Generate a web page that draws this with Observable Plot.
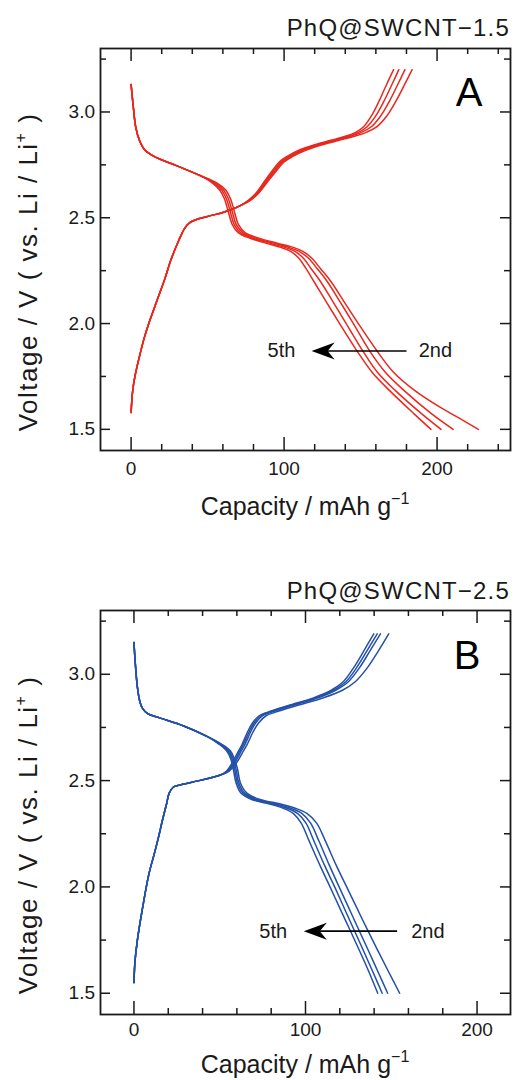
<!DOCTYPE html>
<html>
<head>
<meta charset="utf-8">
<script src="https://cdn.jsdelivr.net/npm/d3@7"></script>
<script src="https://cdn.jsdelivr.net/npm/@observablehq/plot@0.6"></script>
<style>
  body { margin: 0; background: #fff; }
  #chart { width: 514px; height: 1080px; overflow: hidden; }
  #chart svg { display: block; }
</style>
</head>
<body>
<div id="chart"></div>
<script>
// ---- Panel A: PhQ@SWCNT-1.5, cycles 2–5 (capacity mAh/g, voltage V) ----
const dischargeA2 = [[0,3.13],[1.5,3.02],[3,2.93],[5.5,2.865],[9,2.82],[15,2.79],[30,2.745],[45,2.70],[56,2.665],[62,2.63],[65,2.59],[67.5,2.53],[70,2.47],[74.5,2.43],[83,2.405],[95.5,2.38],[106,2.36],[112,2.342],[118,2.31],[124,2.258],[130.5,2.20],[139.5,2.10],[148.5,2.00],[160.8,1.87],[171.5,1.77],[185.5,1.683],[203,1.60],[214,1.555],[227,1.50]];
const dischargeA3 = [[0,3.13],[1.5,3.02],[3,2.93],[5.5,2.865],[9,2.82],[15,2.79],[30,2.745],[45,2.70],[55,2.665],[60.6,2.63],[63.6,2.59],[66.1,2.53],[68.6,2.47],[73,2.43],[81,2.405],[93,2.38],[103,2.36],[109.5,2.342],[115.8,2.31],[121.8,2.258],[128.1,2.20],[136.8,2.10],[145.3,2.00],[156,1.87],[166.2,1.77],[178.5,1.683],[196.5,1.573],[210.5,1.50]];
const dischargeA4 = [[0,3.13],[1.5,3.02],[3,2.93],[5.5,2.865],[9,2.82],[15,2.79],[30,2.745],[45,2.70],[54,2.665],[59.3,2.63],[62.3,2.59],[64.8,2.53],[67.3,2.47],[71.5,2.43],[79,2.405],[90.5,2.38],[100.5,2.36],[106.8,2.342],[112.5,2.31],[117.8,2.258],[123.7,2.20],[132.2,2.10],[140.6,2.00],[151.5,1.87],[161,1.77],[172.8,1.683],[190,1.573],[202.6,1.50]];
const dischargeA5 = [[0,3.13],[1.5,3.02],[3,2.93],[5.5,2.865],[9,2.82],[15,2.79],[30,2.745],[45,2.70],[53,2.665],[58,2.63],[61,2.59],[63.5,2.53],[66,2.47],[70,2.43],[77,2.405],[88,2.38],[98,2.36],[104,2.342],[109.5,2.31],[114.5,2.258],[119.4,2.20],[127.8,2.10],[136.3,2.00],[147.7,1.87],[157.5,1.77],[169,1.683],[185,1.573],[196,1.50]];

const chargeA2 = [[0,1.58],[1,1.68],[2.5,1.75],[4,1.80],[6,1.86],[8.5,1.93],[12,2.01],[15,2.07],[18,2.13],[22,2.21],[26,2.30],[31,2.39],[35,2.45],[38,2.475],[44,2.495],[52,2.51],[60,2.525],[66,2.54],[72,2.56],[78.5,2.585],[83.8,2.62],[89.2,2.67],[94.8,2.72],[100.2,2.765],[105.8,2.79],[114.5,2.82],[125,2.845],[135.5,2.865],[146,2.885],[154,2.905],[160.5,2.93],[167,2.98],[173,3.05],[178.8,3.13],[183.7,3.20]];
const chargeA3 = [[0,1.58],[1,1.68],[2.5,1.75],[4,1.80],[6,1.86],[8.5,1.93],[12,2.01],[15,2.07],[18,2.13],[22,2.21],[26,2.30],[31,2.39],[35,2.45],[38,2.475],[44,2.495],[52,2.51],[60,2.525],[66,2.54],[72,2.56],[78,2.585],[83.2,2.62],[88.4,2.67],[93.8,2.72],[99,2.765],[104.4,2.79],[112.7,2.82],[123,2.845],[133.2,2.865],[143.5,2.885],[151,2.905],[157,2.93],[163,2.98],[168.8,3.05],[174.3,3.13],[179,3.20]];
const chargeA4 = [[0,1.58],[1,1.68],[2.5,1.75],[4,1.80],[6,1.86],[8.5,1.93],[12,2.01],[15,2.07],[18,2.13],[22,2.21],[26,2.30],[31,2.39],[35,2.45],[38,2.475],[44,2.495],[52,2.51],[60,2.525],[66,2.54],[72,2.56],[77.5,2.585],[82.6,2.62],[87.7,2.67],[92.9,2.72],[98,2.765],[103.2,2.79],[111.3,2.82],[121.4,2.845],[131.5,2.865],[141.6,2.885],[148.9,2.905],[154.3,2.93],[159.8,2.98],[165.2,3.05],[170.5,3.13],[175,3.20]];
const chargeA5 = [[0,1.58],[1,1.68],[2.5,1.75],[4,1.80],[6,1.86],[8.5,1.93],[12,2.01],[15,2.07],[18,2.13],[22,2.21],[26,2.30],[31,2.39],[35,2.45],[38,2.475],[44,2.495],[52,2.51],[60,2.525],[66,2.54],[72,2.56],[77,2.585],[82,2.62],[87,2.67],[92,2.72],[97,2.765],[102,2.79],[110,2.82],[120,2.845],[130,2.865],[140,2.885],[147,2.905],[152,2.93],[157,2.98],[162,3.05],[167,3.13],[171.6,3.20]];

// ---- Panel B: PhQ@SWCNT-2.5, cycles 2–5 ----
const dischargeB2 = [[0,3.15],[0.8,3.05],[2,2.94],[3.5,2.87],[5,2.84],[8,2.815],[15,2.795],[29,2.757],[42,2.71],[51,2.672],[56.2,2.64],[58.7,2.60],[60.5,2.55],[62,2.49],[66,2.44],[74,2.41],[85.5,2.39],[94,2.37],[101,2.345],[106.5,2.30],[111.5,2.218],[118,2.10],[124,2.00],[130,1.90],[136,1.80],[142.2,1.70],[148.5,1.60],[154.9,1.50]];
const dischargeB3 = [[0,3.15],[0.8,3.05],[2,2.94],[3.5,2.87],[5,2.84],[8,2.815],[15,2.795],[29,2.757],[42,2.71],[50.5,2.672],[55.4,2.64],[57.9,2.60],[59.6,2.55],[61.1,2.49],[64.7,2.44],[72,2.41],[83,2.39],[91.4,2.37],[98,2.345],[103,2.30],[107.7,2.218],[114,2.10],[119.6,2.00],[125.3,1.90],[131,1.80],[136.7,1.70],[142.3,1.60],[147.9,1.50]];
const dischargeB4 = [[0,3.15],[0.8,3.05],[2,2.94],[3.5,2.87],[5,2.84],[8,2.815],[15,2.795],[29,2.757],[42,2.71],[50,2.672],[54.7,2.64],[57.2,2.60],[58.8,2.55],[60.3,2.49],[63.6,2.44],[70.5,2.41],[81,2.39],[89.2,2.37],[95.5,2.345],[100.3,2.30],[104.8,2.218],[111.2,2.10],[117,2.00],[122.6,1.90],[128.2,1.80],[133.8,1.70],[139.3,1.60],[144.7,1.50]];
const dischargeB5 = [[0,3.15],[0.8,3.05],[2,2.94],[3.5,2.87],[5,2.84],[8,2.815],[15,2.795],[29,2.757],[42,2.71],[49.5,2.672],[54,2.64],[56.5,2.60],[58,2.55],[59.5,2.49],[62.5,2.44],[69,2.41],[79,2.39],[87,2.37],[93,2.345],[97.5,2.30],[102,2.218],[108.5,2.10],[114.3,2.00],[120,1.90],[125.8,1.80],[131.5,1.70],[137,1.60],[142.1,1.50]];

const chargeB2 = [[0,1.55],[0.6,1.65],[2,1.75],[5,1.90],[8.7,2.06],[12,2.16],[14.5,2.24],[16.5,2.31],[19,2.39],[20.5,2.44],[23,2.47],[27,2.48],[38,2.50],[50,2.525],[55.5,2.545],[59.5,2.58],[62.8,2.625],[66,2.67],[69.2,2.725],[72.5,2.77],[77,2.805],[82.5,2.822],[95,2.853],[110.5,2.89],[121.5,2.925],[129,2.965],[136,3.03],[142.5,3.11],[148.5,3.19]];
const chargeB3 = [[0,1.55],[0.6,1.65],[2,1.75],[5,1.90],[8.7,2.06],[12,2.16],[14.5,2.24],[16.5,2.31],[19,2.39],[20.5,2.44],[23,2.47],[27,2.48],[38,2.50],[50,2.525],[55,2.545],[58.6,2.58],[61.6,2.625],[64.7,2.67],[67.8,2.725],[70.8,2.77],[75,2.805],[80.2,2.822],[92.2,2.853],[107.3,2.89],[117.6,2.925],[125,2.965],[131.4,3.03],[137.6,3.11],[143.7,3.19]];
const chargeB4 = [[0,1.55],[0.6,1.65],[2,1.75],[5,1.90],[8.7,2.06],[12,2.16],[14.5,2.24],[16.5,2.31],[19,2.39],[20.5,2.44],[23,2.47],[27,2.48],[38,2.50],[50,2.525],[54.5,2.545],[57.8,2.58],[60.8,2.625],[63.8,2.67],[66.9,2.725],[69.9,2.77],[74,2.805],[79,2.822],[91,2.853],[106,2.89],[116.3,2.925],[123.5,2.965],[129.7,3.03],[135.8,3.11],[141.8,3.19]];
const chargeB5 = [[0,1.55],[0.6,1.65],[2,1.75],[5,1.90],[8.7,2.06],[12,2.16],[14.5,2.24],[16.5,2.31],[19,2.39],[20.5,2.44],[23,2.47],[27,2.48],[38,2.50],[50,2.525],[54,2.545],[57,2.58],[60,2.625],[63,2.67],[66,2.725],[69,2.77],[73,2.805],[78,2.822],[90,2.853],[105,2.89],[115,2.925],[122,2.965],[128,3.03],[134,3.11],[139.8,3.19]];

// ---- Axis ticks ----
const xMajorTicks = [0, 100, 200];
const yMajorTicks = [1.5, 2.0, 2.5, 3.0];
const yMinorTicks = [1.75, 2.25, 2.75, 3.25];

// ---- Annotations: "2nd → 5th" arrow (capacity, voltage) ----
const arrowA = {from: 180, to: 118, v: 1.87, left: 107.4, right: 188};
const arrowB = {from: 153.4, to: 99, v: 1.792, left: 89.3, right: 161.6};

const FONT = '"Liberation Sans", Arial, Helvetica, sans-serif';
const INK = "#1a1a1a";
const W = 514;

// left-pointing filled arrowhead with a notched back, tip at the origin
const arrowHead = {
  draw(ctx, size) {
    const u = Math.sqrt(size / Math.PI);
    ctx.moveTo(0, 0);
    ctx.lineTo(23 * u, -8.5 * u);
    ctx.lineTo(16 * u, 0);
    ctx.lineTo(23 * u, 8.5 * u);
    ctx.closePath();
  }
};

function rows(series, kind) {
  return series.flatMap(([cycle, pts]) =>
    pts.map(([c, v]) => ({id: kind + cycle, cycle, kind, c, v})));
}

function panel(cfg) {
  const marginLeft = 100, marginRight = 4;
  const fh = cfg.height - cfg.marginTop - cfg.marginBottom;
  const fw = W - marginLeft - marginRight;
  const data = [...rows(cfg.discharge, "discharge"), ...rows(cfg.charge, "charge")];
  const xMinor = d3.range(20, cfg.xDomain[1], 20).filter(d => d % 100 !== 0);
  const tick = {stroke: INK, strokeWidth: 1.5};

  const svg = Plot.plot({
    width: W,
    height: cfg.height,
    marginLeft, marginRight,
    marginTop: cfg.marginTop,
    marginBottom: cfg.marginBottom,
    style: {fontFamily: FONT, fontSize: "19px", color: INK, background: "white", overflow: "visible", display: "block"},
    x: {domain: cfg.xDomain, label: null},
    y: {domain: [1.4, 3.3], label: null},
    marks: [
      Plot.line(data, {x: "c", y: "v", z: "id", stroke: cfg.color, strokeWidth: 1.5, curve: "catmull-rom"}),

      // inward ticks on all four sides
      Plot.ruleX(xMajorTicks, {...tick, insetTop: fh - 13}),
      Plot.ruleX(xMajorTicks, {...tick, insetBottom: fh - 13}),
      Plot.ruleX(xMinor, {...tick, insetTop: fh - 6}),
      Plot.ruleX(xMinor, {...tick, insetBottom: fh - 6}),
      Plot.ruleY(yMajorTicks, {...tick, insetRight: fw - 10}),
      Plot.ruleY(yMajorTicks, {...tick, insetLeft: fw - 10}),
      Plot.ruleY(yMinorTicks, {...tick, insetRight: fw - 6}),
      Plot.ruleY(yMinorTicks, {...tick, insetLeft: fw - 6}),
      Plot.frame({stroke: INK, strokeWidth: 1.8}),

      Plot.axisX(xMajorTicks, {tickSize: 0, tickPadding: cfg.xTickPad, tickFormat: d => String(d), fontSize: 19, label: null}),
      Plot.axisY(yMajorTicks, {tickSize: 0, tickPadding: 5.5, tickFormat: d3.format(".1f"), fontSize: 19, label: null}),

      // panel letter
      Plot.text([cfg.letter], {frameAnchor: "top-right", text: d => d, dx: cfg.letterDx, dy: cfg.letterDy, textAnchor: "end", lineAnchor: "top", fontSize: 40, fill: "#000"}),

      // cycle arrow
      Plot.link([cfg.arrow], {x1: "from", x2: d => d.to + 8, y1: "v", y2: "v", stroke: "#000", strokeWidth: 1.6}),
      Plot.dot([cfg.arrow], {x: "to", y: "v", symbol: arrowHead, r: 1, fill: "#000"}),
      Plot.text([cfg.arrow], {x: "left", y: "v", text: () => "5th", textAnchor: "end", fontSize: 20, fill: INK}),
      Plot.text([cfg.arrow], {x: "right", y: "v", text: () => "2nd", textAnchor: "start", fontSize: 20, fill: INK})
    ]
  });

  const s = d3.select(svg);
  // sample name above the frame
  s.append("text")
    .attr("x", W - marginRight).attr("y", cfg.titleBaseline)
    .attr("text-anchor", "end")
    .attr("font-family", FONT).attr("font-size", 24).attr("letter-spacing", 1.2)
    .attr("fill", INK)
    .text(cfg.title);

  // x-axis label with superscript
  const xl = s.append("text")
    .attr("x", marginLeft + fw / 2).attr("y", cfg.xLabelBaseline)
    .attr("text-anchor", "middle")
    .attr("font-family", FONT).attr("font-size", 25).attr("fill", INK);
  xl.append("tspan").text("Capacity / mAh g");
  xl.append("tspan").attr("dy", -11).attr("font-size", 16).text("\u22121");

  // y-axis label with superscript
  const yl = s.append("text")
    .attr("transform", `translate(${cfg.yLabelX},${cfg.yLabelY}) rotate(-90)`)
    .attr("text-anchor", "middle")
    .attr("font-family", FONT).attr("font-size", 26).attr("letter-spacing", 1.5).attr("fill", INK);
  yl.append("tspan").text("Voltage / V ( vs. Li / Li");
  yl.append("tspan").attr("dy", -11).attr("font-size", 16).text("+");
  yl.append("tspan").attr("dy", 11).text(" )");

  return svg;
}

const root = document.getElementById("chart");

root.append(panel({
  title: "PhQ@SWCNT\u22121.5",
  letter: "A",
  color: "#e8281e",
  xDomain: [-20, 248],
  height: 540, marginTop: 48, marginBottom: 90,
  xTickPad: 11,
  discharge: [[2, dischargeA2], [3, dischargeA3], [4, dischargeA4], [5, dischargeA5]],
  charge: [[2, chargeA2], [3, chargeA3], [4, chargeA4], [5, chargeA5]],
  arrow: arrowA,
  letterDx: -28, letterDy: 29,
  titleBaseline: 36,
  xLabelBaseline: 515,
  yLabelX: 37, yLabelY: 272
}));

root.append(panel({
  title: "PhQ@SWCNT\u22122.5",
  letter: "B",
  color: "#2450a8",
  xDomain: [-19.5, 219.5],
  height: 540, marginTop: 70, marginBottom: 66,
  xTickPad: 8,
  discharge: [[2, dischargeB2], [3, dischargeB3], [4, dischargeB4], [5, dischargeB5]],
  charge: [[2, chargeB2], [3, chargeB3], [4, chargeB4], [5, chargeB5]],
  arrow: arrowB,
  letterDx: -30, letterDy: 30,
  titleBaseline: 59,
  xLabelBaseline: 533,
  yLabelX: 37, yLabelY: 295
}));
</script>
</body>
</html>
